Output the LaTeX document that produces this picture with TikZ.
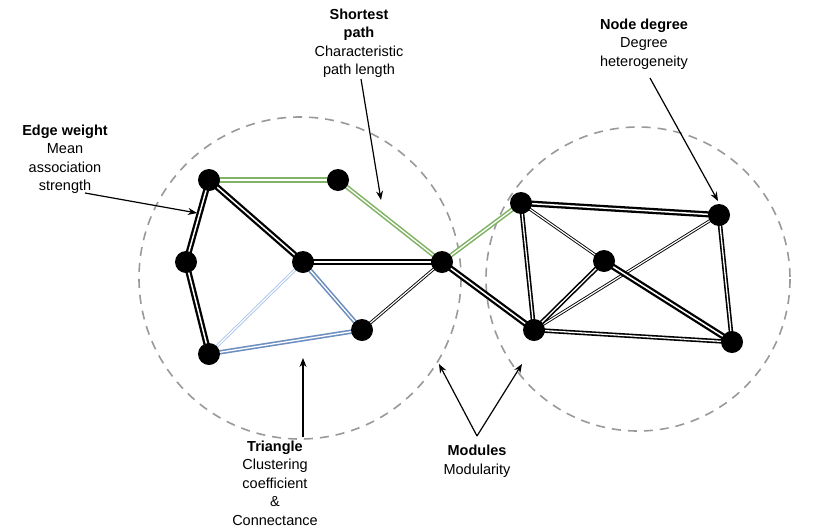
\documentclass[tikz,border=0pt]{standalone}
\usepackage{fontspec}
\setmainfont{Liberation Sans}
\usetikzlibrary{arrows.meta}
\definecolor{grn}{HTML}{82B366}
\definecolor{blu}{HTML}{6C8EBF}
\definecolor{lblu}{HTML}{A9C4EB}
\definecolor{dgray}{HTML}{999999}
\tikzset{
  vtx/.style={circle,fill=black,draw=none,minimum size=22pt,inner sep=0pt},
  thickdbl/.style={draw=#1,double=white,line width=2.3pt,double distance=1.5pt},
  meddbl/.style={draw=#1,double=white,line width=1.6pt,double distance=1.3pt},
  thindbl/.style={draw=#1,double=white,line width=0.9pt,double distance=1.2pt},
  modcircle/.style={draw=dgray,line width=1.6pt,dash pattern=on 9pt off 7pt},
  lbl/.style={align=center,font=\fontsize{14.5}{18.5}\selectfont,inner sep=0pt},
  pointer/.style={-{Stealth[length=9pt,width=7pt]},line width=1.2pt,black}
}
\begin{document}
\begin{tikzpicture}[x=1pt,y=-1pt]
\useasboundingbox (0,0) rectangle (817,528);
% module circles
\draw[modcircle] (300,278) circle (161);
\draw[modcircle] (638,279) circle (152);
% vertices positions
\coordinate (pA) at (209,180);
\coordinate (pB) at (338,180);
\coordinate (pC) at (186,262);
\coordinate (pD) at (303,262);
\coordinate (pE) at (442,262);
\coordinate (pF) at (362,330);
\coordinate (pG) at (209,354);
\coordinate (pH) at (521,203);
\coordinate (pI) at (719,215);
\coordinate (pJ) at (604,261);
\coordinate (pK) at (534,330);
\coordinate (pL) at (732,342);
% edges
\draw[thickdbl=grn] (pA) -- (pB);
\draw[meddbl=grn] (pB) -- (pE);
\draw[meddbl=grn] (pE) -- (pH);
\draw[thickdbl=black] (pA) -- (pC);
\draw[thickdbl=black] (pC) -- (pG);
\draw[thickdbl=black] (pA) -- (pD);
\draw[thickdbl=black] (pD) -- (pE);
\draw[meddbl=blu] (pD) -- (pF);
\draw[thindbl=lblu] (pD) -- (pG);
\draw[meddbl=blu] (pG) -- (pF);
\draw[thindbl=black] (pF) -- (pE);
\draw[thickdbl=black] (pE) -- (pK);
\draw[thickdbl=black] (pH) -- (pI);
\draw[meddbl=black] (pH) -- (pK);
\draw[thindbl=black] (pH) -- (pJ);
\draw[meddbl=black] (pI) -- (pL);
\draw[thindbl=black] (pI) -- (pK);
\draw[meddbl=black] (pJ) -- (pK);
\draw[thickdbl=black] (pJ) -- (pL);
\draw[meddbl=black] (pK) -- (pL);
% vertices
\foreach \v in {A,B,C,D,E,F,G,H,I,J,K,L} \node[vtx] (\v) at (p\v) {};
% labels
\node[lbl] (ew) at (65,159) {\textbf{Edge weight}\\Mean\\association\\strength};
\node[lbl] (sp) at (359,43) {\textbf{Shortest}\\\textbf{path}\\Characteristic\\path length};
\node[lbl] (nd) at (644,44) {\textbf{Node degree}\\Degree\\heterogeneity};
\node[lbl] (tr) at (275,483) {\textbf{Triangle}\\Clustering\\coefficient\\\&\\Connectance};
\node[lbl] (mo) at (477,461) {\textbf{Modules}\\Modularity};
% pointer ends
\coordinate (ew0) at (85,193);
\coordinate (ew1) at (197,213);
\coordinate (sp0) at (361,79);
\coordinate (sp1) at (381,200);
\coordinate (nd0) at (650,78);
\coordinate (nd1) at (718,201);
\coordinate (tr0) at (303,437);
\coordinate (tr1) at (303,358);
\coordinate (mo0) at (477,436);
\coordinate (mo1) at (439,364);
\coordinate (mo2) at (522,364);
\draw[pointer] (ew0) -- (ew1);
\draw[pointer] (sp0) -- (sp1);
\draw[pointer] (nd0) -- (nd1);
\draw[pointer] (tr0) -- (tr1);
\draw[pointer] (mo0) -- (mo1);
\draw[pointer] (mo0) -- (mo2);
\end{tikzpicture}
\end{document}
